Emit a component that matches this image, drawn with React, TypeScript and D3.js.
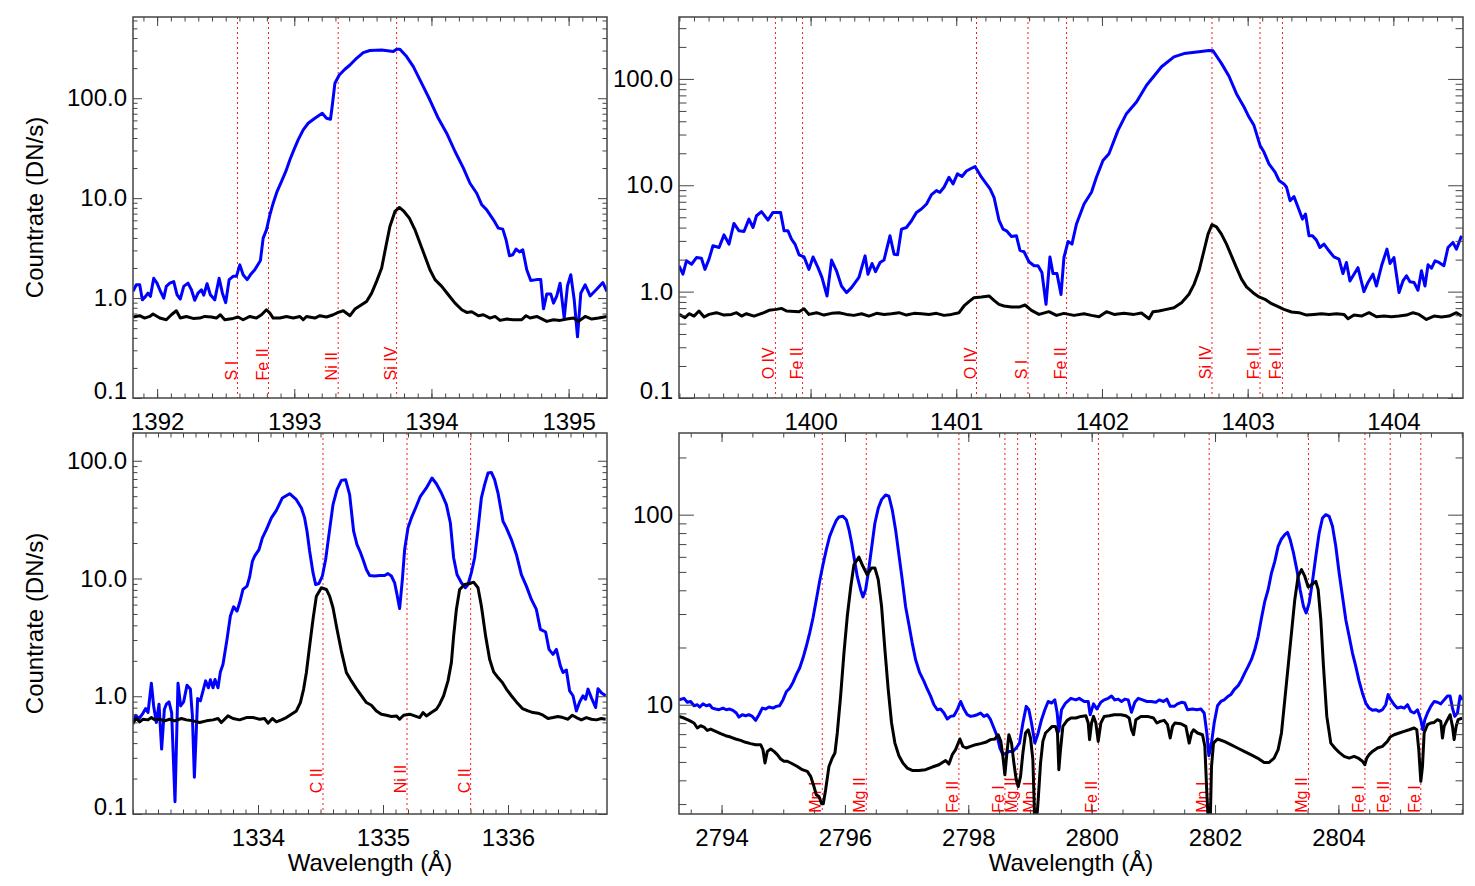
import React, { useEffect, useRef } from "react";
import * as d3 from "d3";

const width = 1475;
const height = 886;
const font = "'Liberation Sans', Arial, Helvetica, sans-serif";

// ---- Si IV 1394 window (top left) ----
const si1394Range = [1391.824, 1395.28];
const si1394Counts = [0.1, 650];
const si1394Ticks = [1392, 1393, 1394, 1395];
const si1394Lines = [1392.586, 1392.812, 1393.32, 1393.746];
const si1394Ids = ["S I", "Fe II", "Ni II", "Si IV"];
const si1394Blue: [number, number][] = [
  [1391.824,1.17],[1391.848,1.36],[1391.873,1.36],[1391.892,0.96],[1391.916,1.04],[1391.933,1.12],[1391.951,1.04],[1391.975,1.58],[1391.999,1.41],[1392.024,1.17],
  [1392.048,1.0],[1392.067,1.31],[1392.092,1.41],[1392.121,1.46],[1392.145,1.08],[1392.169,0.98],[1392.194,1.31],[1392.225,1.41],[1392.25,1.21],[1392.274,0.95],
  [1392.298,1.12],[1392.323,1.21],[1392.34,1.07],[1392.364,1.39],[1392.388,1.08],[1392.42,0.96],[1392.452,1.58],[1392.476,1.12],[1392.5,0.9],[1392.525,1.53],
  [1392.554,1.65],[1392.578,1.65],[1392.603,2.15],[1392.627,1.71],[1392.656,1.53],[1392.68,1.71],[1392.712,1.92],[1392.753,2.38],[1392.773,3.98],[1392.797,4.82],
  [1392.822,6.81],[1392.846,8.9],[1392.875,11.7],[1392.907,14.7],[1392.938,18.5],[1392.968,24.2],[1392.997,30.4],[1393.028,38.3],[1393.065,48.2],[1393.101,56.2],
  [1393.15,63],[1393.204,70.8],[1393.235,63],[1393.264,61.7],[1393.279,89],[1393.296,141],[1393.328,171],[1393.369,195],[1393.406,215],[1393.454,251],
  [1393.503,286],[1393.551,300],[1393.637,304],[1393.722,293],[1393.746,309],[1393.77,309],[1393.819,261],[1393.868,207],[1393.929,141],[1393.989,96],
  [1394.05,63],[1394.111,44.7],[1394.172,29.3],[1394.233,20],[1394.281,14.1],[1394.33,11.2],[1394.367,8.58],[1394.403,7.64],[1394.452,6.07],[1394.488,5.01],
  [1394.52,4.9],[1394.544,3.83],[1394.569,2.65],[1394.593,2.71],[1394.617,3.09],[1394.642,2.9],[1394.666,3.04],[1394.695,1.92],[1394.724,1.5],[1394.768,1.53],
  [1394.797,1.53],[1394.817,0.78],[1394.841,1.1],[1394.87,1.1],[1394.89,0.89],[1394.914,1.05],[1394.938,1.41],[1394.968,0.63],[1394.992,1.33],[1395.016,1.71],
  [1395.041,0.96],[1395.065,0.41],[1395.089,1.12],[1395.121,1.36],[1395.157,1.05],[1395.201,1.21],[1395.25,1.43],[1395.279,1.17]
];
const si1394Black: [number, number][] = [
  [1391.824,0.646],[1391.873,0.666],[1391.909,0.631],[1391.946,0.655],[1391.97,0.692],[1392.019,0.631],[1392.067,0.607],[1392.104,0.681],[1392.14,0.747],[1392.169,0.631],
  [1392.213,0.655],[1392.262,0.626],[1392.311,0.631],[1392.347,0.655],[1392.396,0.646],[1392.432,0.631],[1392.461,0.681],[1392.493,0.607],[1392.554,0.626],[1392.59,0.646],
  [1392.627,0.607],[1392.676,0.655],[1392.724,0.631],[1392.761,0.681],[1392.797,0.764],[1392.822,0.708],[1392.846,0.631],[1392.895,0.631],[1392.943,0.655],[1392.992,0.631],
  [1393.041,0.655],[1393.065,0.607],[1393.089,0.655],[1393.15,0.631],[1393.187,0.666],[1393.235,0.646],[1393.284,0.681],[1393.32,0.719],[1393.357,0.747],[1393.406,0.666],
  [1393.442,0.776],[1393.479,0.838],[1393.527,0.926],[1393.564,1.12],[1393.6,1.47],[1393.637,2.0],[1393.668,3.29],[1393.697,5.21],[1393.734,7.36],[1393.766,8.07],
  [1393.8,7.36],[1393.839,6.31],[1393.88,4.82],[1393.916,3.55],[1393.953,2.61],[1393.989,1.92],[1394.026,1.53],[1394.075,1.31],[1394.123,1.08],[1394.172,0.891],
  [1394.221,0.764],[1394.257,0.719],[1394.294,0.73],[1394.342,0.666],[1394.379,0.681],[1394.427,0.631],[1394.464,0.655],[1394.5,0.598],[1394.549,0.617],[1394.598,0.607],
  [1394.658,0.607],[1394.69,0.666],[1394.719,0.631],[1394.768,0.655],[1394.841,0.584],[1394.89,0.607],[1394.938,0.598],[1394.987,0.617],[1395.036,0.631],[1395.072,0.584],
  [1395.121,0.655],[1395.169,0.617],[1395.218,0.631],[1395.279,0.655]
];

// ---- Si IV 1403 window (top right) ----
const si1403Range = [1399.097, 1404.478];
const si1403Counts = [0.1, 382];
const si1403Ticks = [1400, 1401, 1402, 1403, 1404];
const si1403Lines = [1399.759, 1399.945, 1401.139, 1401.492, 1401.757, 1402.755, 1403.085, 1403.239];
const si1403Ids = ["O IV", "Fe II", "O IV", "S I", "Fe II", "Si IV", "Fe II", "Fe II"];
const si1403Blue: [number, number][] = [
  [1399.097,1.75],[1399.124,1.46],[1399.148,1.95],[1399.183,1.81],[1399.217,2.09],[1399.251,2.06],[1399.275,1.62],[1399.303,2.02],[1399.33,2.7],[1399.372,2.6],
  [1399.406,3.42],[1399.44,2.8],[1399.474,4.38],[1399.509,3.73],[1399.543,3.68],[1399.577,4.81],[1399.605,4.01],[1399.629,5.17],[1399.663,5.65],[1399.708,4.71],
  [1399.742,5.56],[1399.794,5.56],[1399.818,3.73],[1399.845,3.73],[1399.869,3.12],[1399.893,2.8],[1399.921,2.22],[1399.955,2.12],[1399.989,1.62],[1400.017,2.12],
  [1400.051,1.68],[1400.078,1.36],[1400.113,0.91],[1400.144,1.98],[1400.178,1.57],[1400.212,1.13],[1400.247,0.98],[1400.281,1.09],[1400.332,1.36],[1400.374,2.17],
  [1400.394,1.46],[1400.422,1.84],[1400.446,1.54],[1400.477,1.88],[1400.504,1.98],[1400.545,3.35],[1400.573,2.25],[1400.597,2.22],[1400.624,3.87],[1400.658,4.01],
  [1400.693,4.64],[1400.727,5.56],[1400.761,5.98],[1400.796,6.67],[1400.83,8.16],[1400.864,8.91],[1400.888,8.59],[1400.916,9.58],[1400.95,11.9],[1400.978,10.3],
  [1401.008,12.8],[1401.039,12.1],[1401.07,13.6],[1401.098,14.3],[1401.129,15.0],[1401.173,11.9],[1401.232,9.23],[1401.259,7.71],[1401.293,4.71],[1401.321,3.87],
  [1401.345,3.73],[1401.379,3.3],[1401.413,3.35],[1401.437,2.45],[1401.465,2.37],[1401.499,1.91],[1401.534,1.75],[1401.561,1.75],[1401.588,1.51],[1401.616,0.76],
  [1401.643,2.12],[1401.664,1.48],[1401.691,1.48],[1401.719,0.94],[1401.739,2.09],[1401.767,2.96],[1401.794,2.8],[1401.825,4.32],[1401.877,6.67],[1401.928,8.59],
  [1401.962,11.9],[1402.007,17.1],[1402.048,19.8],[1402.11,32.8],[1402.168,47.1],[1402.237,60.7],[1402.306,87.1],[1402.409,130],[1402.494,161],[1402.563,173],
  [1402.666,180],[1402.735,185],[1402.762,184],[1402.82,140],[1402.872,106],[1402.923,72.7],[1402.975,54.4],[1403.009,43.8],[1403.043,36.6],[1403.085,23.7],
  [1403.112,20.5],[1403.146,15.9],[1403.188,13.3],[1403.215,11.1],[1403.249,10.3],[1403.267,9.58],[1403.291,7.16],[1403.318,7.82],[1403.342,6.43],[1403.376,4.81],
  [1403.397,5.37],[1403.421,3.35],[1403.445,3.35],[1403.472,3.05],[1403.496,2.6],[1403.524,2.8],[1403.558,2.42],[1403.592,2.12],[1403.627,2.02],[1403.654,1.48],
  [1403.678,1.88],[1403.702,1.26],[1403.73,1.46],[1403.757,1.68],[1403.798,1.0],[1403.826,1.22],[1403.86,1.46],[1403.884,1.13],[1403.919,1.75],[1403.956,2.51],
  [1403.977,1.84],[1404.004,2.09],[1404.039,0.98],[1404.066,1.26],[1404.09,1.41],[1404.114,1.24],[1404.142,1.22],[1404.169,1.03],[1404.193,1.57],[1404.217,1.13],
  [1404.238,1.79],[1404.262,1.66],[1404.286,1.95],[1404.313,1.88],[1404.347,1.75],[1404.375,2.6],[1404.409,2.9],[1404.433,2.51],[1404.468,3.35]
];
const si1403Black: [number, number][] = [
  [1399.097,0.611],[1399.138,0.569],[1399.166,0.62],[1399.2,0.589],[1399.234,0.657],[1399.269,0.577],[1399.303,0.611],[1399.354,0.634],[1399.406,0.602],[1399.457,0.611],
  [1399.492,0.634],[1399.526,0.589],[1399.56,0.62],[1399.612,0.589],[1399.646,0.611],[1399.68,0.634],[1399.715,0.667],[1399.766,0.681],[1399.8,0.696],[1399.835,0.657],
  [1399.921,0.648],[1399.955,0.691],[1399.989,0.611],[1400.041,0.634],[1400.092,0.602],[1400.144,0.625],[1400.195,0.634],[1400.247,0.611],[1400.298,0.598],[1400.35,0.62],
  [1400.401,0.589],[1400.453,0.625],[1400.504,0.611],[1400.555,0.62],[1400.607,0.634],[1400.658,0.602],[1400.71,0.625],[1400.761,0.62],[1400.813,0.611],[1400.864,0.625],
  [1400.916,0.598],[1400.967,0.611],[1401.019,0.634],[1401.053,0.733],[1401.087,0.805],[1401.122,0.878],[1401.173,0.891],[1401.225,0.91],[1401.259,0.828],[1401.293,0.76],
  [1401.328,0.733],[1401.379,0.716],[1401.431,0.716],[1401.472,0.749],[1401.516,0.667],[1401.568,0.611],[1401.636,0.648],[1401.688,0.598],[1401.739,0.625],[1401.808,0.598],
  [1401.877,0.62],[1401.928,0.598],[1401.98,0.581],[1402.031,0.648],[1402.083,0.611],[1402.151,0.625],[1402.22,0.611],[1402.271,0.629],[1402.323,0.556],[1402.35,0.648],
  [1402.391,0.657],[1402.443,0.681],[1402.494,0.706],[1402.546,0.787],[1402.597,0.944],[1402.632,1.17],[1402.666,1.57],[1402.7,2.42],[1402.728,3.47],[1402.755,4.26],
  [1402.786,4.07],[1402.82,3.47],[1402.855,2.8],[1402.889,2.17],[1402.923,1.68],[1402.958,1.31],[1402.992,1.11],[1403.037,0.978],[1403.078,0.891],[1403.119,0.847],
  [1403.164,0.77],[1403.198,0.733],[1403.249,0.681],[1403.301,0.643],[1403.352,0.634],[1403.404,0.602],[1403.455,0.611],[1403.507,0.62],[1403.558,0.611],[1403.61,0.62],
  [1403.661,0.611],[1403.689,0.556],[1403.73,0.602],[1403.781,0.589],[1403.833,0.634],[1403.884,0.581],[1403.936,0.589],[1403.987,0.581],[1404.039,0.589],[1404.09,0.602],
  [1404.135,0.634],[1404.176,0.611],[1404.227,0.548],[1404.279,0.589],[1404.33,0.577],[1404.382,0.589],[1404.433,0.634],[1404.468,0.589]
];

// ---- C II window (bottom left) ----
const ciiRange = [1333.0, 1336.792];
const ciiCounts = [0.1, 172];
const ciiTicks = [1334, 1335, 1336];
const ciiLines = [1334.52, 1335.192, 1335.701];
const ciiIds = ["C II", "Ni II", "C II"];
const ciiBlue: [number, number][] = [
  [1333.0,0.579],[1333.021,0.69],[1333.048,0.647],[1333.075,0.704],[1333.101,0.786],[1333.12,0.727],[1333.147,1.29],[1333.165,0.828],[1333.187,0.598],[1333.208,0.856],
  [1333.229,0.356],[1333.251,0.776],[1333.267,0.856],[1333.288,0.895],[1333.309,0.727],[1333.336,0.127],[1333.36,1.29],[1333.381,0.828],[1333.405,0.895],[1333.432,1.24],
  [1333.459,1.15],[1333.475,0.681],[1333.491,0.205],[1333.517,0.955],[1333.539,0.913],[1333.56,1.11],[1333.581,1.35],[1333.603,1.18],[1333.619,1.38],[1333.64,1.18],
  [1333.656,1.39],[1333.68,1.18],[1333.699,1.61],[1333.72,1.87],[1333.752,3.04],[1333.779,4.8],[1333.805,5.75],[1333.832,5.28],[1333.853,6.22],[1333.88,8.07],
  [1333.912,8.61],[1333.933,10.3],[1333.955,14.0],[1333.973,15.5],[1334.008,17.6],[1334.035,22.1],[1334.067,26.0],[1334.107,32.7],[1334.147,37.9],[1334.195,48.3],
  [1334.253,52.5],[1334.307,46.7],[1334.347,39.7],[1334.373,32.7],[1334.392,25.2],[1334.413,17.1],[1334.44,11.2],[1334.461,8.89],[1334.488,9.07],[1334.515,10.5],
  [1334.541,14.5],[1334.573,26.0],[1334.6,42.4],[1334.632,56.8],[1334.667,68.1],[1334.701,69.0],[1334.733,51.5],[1334.765,25.2],[1334.792,19.4],[1334.819,16.7],
  [1334.845,14.0],[1334.867,11.9],[1334.893,10.6],[1334.933,10.5],[1334.973,10.6],[1335.013,10.6],[1335.04,11.0],[1335.067,10.5],[1335.093,9.19],[1335.112,7.31],
  [1335.133,5.57],[1335.155,9.82],[1335.173,17.6],[1335.2,26.9],[1335.227,32.7],[1335.261,39.7],[1335.299,49.9],[1335.347,58.7],[1335.392,71.3],[1335.427,63.8],
  [1335.467,53.2],[1335.507,42.4],[1335.539,29.6],[1335.565,15.0],[1335.592,10.8],[1335.627,9.19],[1335.659,8.34],[1335.68,8.89],[1335.707,11.2],[1335.733,15.0],
  [1335.76,26.0],[1335.787,48.3],[1335.813,62.6],[1335.84,78.6],[1335.867,79.6],[1335.893,69.0],[1335.92,53.2],[1335.96,30.6],[1335.987,26.9],[1336.027,21.4],
  [1336.067,16.0],[1336.107,10.8],[1336.147,8.61],[1336.187,6.64],[1336.227,5.46],[1336.259,3.7],[1336.301,3.51],[1336.328,2.5],[1336.36,2.27],[1336.387,2.5],
  [1336.419,1.81],[1336.44,1.59],[1336.467,1.67],[1336.493,1.11],[1336.52,1.01],[1336.547,0.751],[1336.573,0.895],[1336.6,1.01],[1336.621,0.943],[1336.64,1.15],
  [1336.667,0.974],[1336.701,0.802],[1336.72,1.16],[1336.747,1.07],[1336.781,1.01]
];
const ciiBlack: [number, number][] = [
  [1333.0,0.598],[1333.027,0.647],[1333.053,0.606],[1333.08,0.638],[1333.12,0.63],[1333.147,0.659],[1333.173,0.63],[1333.213,0.638],[1333.253,0.618],[1333.293,0.638],
  [1333.333,0.618],[1333.387,0.647],[1333.427,0.63],[1333.48,0.618],[1333.533,0.598],[1333.587,0.618],[1333.64,0.63],[1333.68,0.647],[1333.707,0.598],[1333.76,0.681],
  [1333.8,0.647],[1333.853,0.63],[1333.907,0.659],[1333.96,0.659],[1334.013,0.638],[1334.053,0.647],[1334.08,0.59],[1334.115,0.647],[1334.147,0.606],[1334.187,0.63],
  [1334.227,0.659],[1334.267,0.704],[1334.307,0.751],[1334.339,0.884],[1334.365,1.15],[1334.387,1.59],[1334.413,2.67],[1334.44,4.5],[1334.467,7.08],[1334.507,8.34],
  [1334.547,8.07],[1334.573,7.08],[1334.6,5.64],[1334.632,3.7],[1334.667,2.42],[1334.707,1.59],[1334.747,1.35],[1334.787,1.16],[1334.827,1.01],[1334.867,0.884],
  [1334.907,0.839],[1334.947,0.751],[1334.987,0.704],[1335.027,0.69],[1335.067,0.673],[1335.107,0.681],[1335.133,0.638],[1335.165,0.69],[1335.213,0.704],[1335.253,0.681],
  [1335.293,0.659],[1335.32,0.727],[1335.347,0.681],[1335.387,0.727],[1335.427,0.776],[1335.453,0.856],[1335.485,1.01],[1335.52,1.35],[1335.547,1.93],[1335.565,3.24],
  [1335.587,5.46],[1335.613,8.07],[1335.653,8.89],[1335.693,9.07],[1335.725,9.31],[1335.76,8.34],[1335.787,5.83],[1335.821,3.24],[1335.853,2.06],[1335.885,1.61],
  [1335.92,1.44],[1335.955,1.31],[1335.987,1.15],[1336.027,1.01],[1336.067,0.895],[1336.115,0.786],[1336.16,0.751],[1336.2,0.727],[1336.24,0.718],[1336.28,0.69],
  [1336.32,0.647],[1336.36,0.659],[1336.4,0.673],[1336.44,0.659],[1336.48,0.638],[1336.515,0.69],[1336.547,0.659],[1336.587,0.63],[1336.627,0.659],[1336.667,0.638],
  [1336.707,0.63],[1336.747,0.647],[1336.781,0.638]
];

// ---- Mg II window (bottom right) ----
const mgRange = [2793.31, 2806.02];
const mgCounts = [2.66, 269];
const mgTicks = [2794, 2796, 2798, 2800, 2802, 2804];
const mgLines = [2795.633, 2796.346, 2797.848, 2798.594, 2798.8, 2799.09, 2800.11, 2801.905, 2803.515, 2804.43, 2804.84, 2805.336];
const mgIds = ["Mn I", "Mg II", "Fe II", "Fe I", "Mg II", "Mn I", "Fe II", "Mn I", "Mg II", "Fe I", "Fe II", "Fe I"];
const mgBlue: [number, number][] = [
  [2793.31,10.6],[2793.391,10.8],[2793.445,10.3],[2793.499,10.4],[2793.553,9.88],[2793.607,10.0],[2793.645,9.72],[2793.699,10.1],[2793.753,9.88],[2793.807,10.0],
  [2793.85,9.6],[2793.904,9.49],[2793.958,9.41],[2794.023,9.6],[2794.077,9.41],[2794.131,9.49],[2794.185,9.34],[2794.239,9.04],[2794.282,8.61],[2794.336,8.86],
  [2794.39,8.75],[2794.444,8.86],[2794.498,8.68],[2794.552,8.27],[2794.606,8.86],[2794.661,9.6],[2794.715,9.49],[2794.769,9.72],[2794.833,9.6],[2794.887,9.8],
  [2794.941,9.88],[2794.995,10.6],[2795.05,11.7],[2795.104,12.2],[2795.158,13.1],[2795.212,14.4],[2795.266,15.6],[2795.32,17.6],[2795.374,20.3],[2795.428,23.8],
  [2795.482,28.6],[2795.536,35.7],[2795.59,44.6],[2795.644,54.5],[2795.698,65.5],[2795.752,76.9],[2795.806,85.1],[2795.86,93.3],[2795.903,97.2],[2795.968,98.0],
  [2796.022,94.1],[2796.066,83.4],[2796.109,70.9],[2796.152,58.4],[2796.2,47.3],[2796.254,40.3],[2796.292,36.9],[2796.335,40.3],[2796.378,49.3],[2796.432,66.8],
  [2796.486,90.4],[2796.54,108],[2796.594,120],[2796.659,127],[2796.713,125],[2796.767,106],[2796.821,83.4],[2796.875,61.6],[2796.929,45.5],[2796.983,32.9],
  [2797.037,26.4],[2797.091,21.1],[2797.145,17.3],[2797.21,14.8],[2797.28,13.3],[2797.334,12.1],[2797.389,11.1],[2797.443,10.0],[2797.497,9.41],[2797.551,9.49],
  [2797.605,9.04],[2797.659,8.41],[2797.713,8.68],[2797.767,8.75],[2797.821,9.41],[2797.875,10.4],[2797.929,9.49],[2797.983,8.86],[2798.037,8.68],[2798.091,8.75],
  [2798.145,8.86],[2798.199,9.04],[2798.253,8.68],[2798.307,8.86],[2798.361,8.34],[2798.415,7.54],[2798.469,6.81],[2798.512,5.92],[2798.561,5.46],[2798.615,5.57],
  [2798.669,5.68],[2798.723,5.68],[2798.777,5.92],[2798.831,6.28],[2798.885,8.01],[2798.939,9.8],[2798.982,9.41],[2799.025,8.01],[2799.079,6.28],[2799.133,7.1],
  [2799.187,8.34],[2799.241,9.41],[2799.295,10.4],[2799.349,10.2],[2799.403,10.6],[2799.441,9.04],[2799.468,7.24],[2799.511,9.41],[2799.577,10.2],[2799.663,10.8],
  [2799.744,10.6],[2799.798,10.8],[2799.879,10.4],[2799.944,10.4],[2799.976,8.86],[2800.03,10.1],[2800.084,9.49],[2800.149,10.3],[2800.203,10.6],[2800.268,10.8],
  [2800.322,11.1],[2800.376,10.6],[2800.43,10.7],[2800.484,10.4],[2800.538,10.7],[2800.592,10.6],[2800.646,9.12],[2800.7,10.3],[2800.754,10.8],[2800.825,10.6],
  [2800.895,10.4],[2800.96,10.4],[2801.041,10.3],[2801.095,10.6],[2801.165,10.4],[2801.219,10.7],[2801.273,9.8],[2801.338,9.8],[2801.392,10.1],[2801.457,10.3],
  [2801.511,10.2],[2801.554,9.41],[2801.635,9.49],[2801.705,9.41],[2801.77,9.49],[2801.824,9.04],[2801.867,7.1],[2801.9,5.39],[2801.943,6.28],[2801.986,8.01],
  [2802.04,9.88],[2802.094,10.4],[2802.148,10.6],[2802.202,11.0],[2802.256,11.3],[2802.31,12.0],[2802.375,12.6],[2802.429,13.5],[2802.483,14.7],[2802.537,15.9],
  [2802.591,17.3],[2802.645,19.5],[2802.699,22.9],[2802.753,28.6],[2802.807,35.0],[2802.861,40.3],[2802.915,49.3],[2802.969,56.8],[2803.023,68.1],[2803.077,74.5],
  [2803.131,78.5],[2803.175,80.7],[2803.218,73.9],[2803.272,62.9],[2803.326,51.4],[2803.38,40.3],[2803.434,32.9],[2803.477,30.4],[2803.526,34.3],[2803.58,44.6],
  [2803.634,60.4],[2803.688,80.1],[2803.742,96.0],[2803.796,100],[2803.85,98.0],[2803.904,86.9],[2803.958,68.1],[2804.012,49.3],[2804.066,37.2],[2804.12,28.0],
  [2804.174,22.9],[2804.228,18.7],[2804.282,15.9],[2804.336,13.3],[2804.39,11.5],[2804.444,10.2],[2804.498,9.6],[2804.552,9.34],[2804.606,9.41],[2804.66,9.23],
  [2804.714,9.41],[2804.768,10.0],[2804.806,11.3],[2804.85,10.6],[2804.904,10.0],[2804.958,9.6],[2805.012,9.72],[2805.066,9.6],[2805.12,10.0],[2805.174,9.23],
  [2805.228,9.04],[2805.282,9.41],[2805.336,8.34],[2805.368,7.38],[2805.401,8.34],[2805.444,9.04],[2805.498,9.8],[2805.552,10.4],[2805.606,10.3],[2805.66,10.1],
  [2805.714,10.6],[2805.768,11.1],[2805.811,11.1],[2805.849,9.6],[2805.887,8.68],[2805.93,9.04],[2805.973,11.1],[2806.006,10.6]
];
const mgBlack: [number, number][] = [
  [2793.31,8.68],[2793.391,8.51],[2793.472,8.27],[2793.553,8.01],[2793.607,7.54],[2793.661,7.75],[2793.715,7.63],[2793.769,7.32],[2793.823,7.44],[2793.904,7.24],
  [2793.985,7.04],[2794.066,6.87],[2794.147,6.76],[2794.228,6.6],[2794.309,6.49],[2794.39,6.34],[2794.471,6.24],[2794.552,6.16],[2794.633,6.16],[2794.671,5.8],
  [2794.704,4.93],[2794.742,5.68],[2794.796,5.85],[2794.85,5.68],[2794.904,5.46],[2794.958,5.18],[2795.012,5.04],[2795.066,5.04],[2795.147,4.89],[2795.228,4.73],
  [2795.309,4.55],[2795.39,4.46],[2795.444,4.2],[2795.498,3.71],[2795.536,3.36],[2795.579,3.29],[2795.622,3.01],[2795.649,3.01],[2795.687,3.57],[2795.741,4.73],
  [2795.795,5.24],[2795.838,5.57],[2795.876,7.1],[2795.93,11.1],[2795.984,18.7],[2796.038,29.2],[2796.092,41.1],[2796.146,54.5],[2796.227,59.8],[2796.292,53.5],
  [2796.362,48.3],[2796.432,52.4],[2796.486,52.4],[2796.54,45.5],[2796.594,32.9],[2796.648,19.5],[2796.702,12.0],[2796.756,8.01],[2796.81,6.28],[2796.875,5.39],
  [2796.94,4.93],[2797.01,4.64],[2797.091,4.51],[2797.199,4.51],[2797.307,4.55],[2797.416,4.7],[2797.524,4.83],[2797.632,5.09],[2797.686,4.87],[2797.74,5.46],
  [2797.794,5.8],[2797.864,6.6],[2797.912,6.04],[2797.966,5.92],[2798.037,6.04],[2798.118,6.16],[2798.199,6.24],[2798.28,6.34],[2798.361,6.55],[2798.431,6.6],
  [2798.485,6.95],[2798.528,6.41],[2798.561,5.35],[2798.593,4.28],[2798.626,5.57],[2798.658,6.95],[2798.701,6.28],[2798.739,4.93],[2798.777,4.03],[2798.809,3.71],
  [2798.847,4.2],[2798.885,5.57],[2798.928,7.1],[2798.971,7.38],[2799.009,6.68],[2799.047,5.13],[2799.079,2.3],[2799.101,2.3],[2799.133,3.16],[2799.171,4.93],
  [2799.209,6.41],[2799.252,7.1],[2799.306,7.38],[2799.36,7.69],[2799.414,7.69],[2799.446,7.1],[2799.468,4.55],[2799.49,5.57],[2799.533,7.69],[2799.603,8.27],
  [2799.663,8.51],[2799.744,8.51],[2799.825,8.68],[2799.906,8.75],[2799.944,8.01],[2799.966,6.55],[2799.998,8.01],[2800.03,8.68],[2800.068,8.01],[2800.106,6.41],
  [2800.149,8.01],[2800.203,8.68],[2800.284,8.75],[2800.365,8.86],[2800.473,8.86],[2800.554,8.75],[2800.608,8.51],[2800.646,7.38],[2800.679,6.95],[2800.716,8.34],
  [2800.798,8.68],[2800.906,8.68],[2801.003,8.51],[2801.057,8.01],[2801.111,8.17],[2801.176,8.27],[2801.23,7.85],[2801.273,6.68],[2801.311,7.69],[2801.349,8.01],
  [2801.446,7.94],[2801.527,7.69],[2801.581,6.28],[2801.619,7.1],[2801.651,7.38],[2801.716,7.1],[2801.797,6.95],[2801.835,6.04],[2801.867,3.43],[2801.894,2.3],
  [2801.921,2.3],[2801.943,4.73],[2801.975,6.28],[2802.04,6.6],[2802.148,6.41],[2802.256,6.16],[2802.364,5.92],[2802.472,5.68],[2802.58,5.46],[2802.688,5.24],
  [2802.796,4.97],[2802.877,4.97],[2802.958,5.24],[2803.023,5.8],[2803.077,7.1],[2803.131,10.6],[2803.185,15.9],[2803.239,23.8],[2803.293,35.7],[2803.347,47.3],
  [2803.402,51.4],[2803.456,47.3],[2803.51,41.6],[2803.564,42.8],[2803.634,44.6],[2803.672,40.3],[2803.715,28.0],[2803.758,15.9],[2803.812,8.68],[2803.877,6.28],
  [2803.942,5.92],[2804.012,5.61],[2804.093,5.35],[2804.174,5.24],[2804.255,5.35],[2804.32,5.24],[2804.39,5.04],[2804.428,4.83],[2804.46,5.24],[2804.498,5.46],
  [2804.552,5.68],[2804.633,5.92],[2804.714,6.04],[2804.795,6.41],[2804.839,6.76],[2804.904,6.95],[2804.985,7.1],[2805.066,7.24],[2805.147,7.38],[2805.228,7.54],
  [2805.271,7.38],[2805.303,5.8],[2805.336,3.95],[2805.363,4.73],[2805.39,7.1],[2805.444,7.85],[2805.498,8.01],[2805.552,8.07],[2805.606,8.34],[2805.66,8.17],
  [2805.687,6.68],[2805.714,7.69],[2805.768,8.34],[2805.811,8.86],[2805.849,7.69],[2805.876,6.55],[2805.909,7.69],[2805.941,8.34],[2806.006,8.51]
];

const countTicks = [0.1, 1, 10, 100];
const mgCountTicks = [10, 100];
const idLevel = [0.15, 0.15, 0.15, 2.7];

const panels = [
  { blue: si1394Blue, black: si1394Black, lines: si1394Lines, ids: si1394Ids, xDomain: si1394Range, yDomain: si1394Counts,
    xTicks: si1394Ticks, minorStep: 0.1, yTicks: countTicks, yFmt: ".1f", box: [133, 607, 17, 398], yTitle: true, xTitle: false },
  { blue: si1403Blue, black: si1403Black, lines: si1403Lines, ids: si1403Ids, xDomain: si1403Range, yDomain: si1403Counts,
    xTicks: si1403Ticks, minorStep: 0.1, yTicks: countTicks, yFmt: ".1f", box: [679, 1463, 17, 398], yTitle: false, xTitle: false },
  { blue: ciiBlue, black: ciiBlack, lines: ciiLines, ids: ciiIds, xDomain: ciiRange, yDomain: ciiCounts,
    xTicks: ciiTicks, minorStep: 0.1, yTicks: countTicks, yFmt: ".1f", box: [133, 607, 433, 814], yTitle: true, xTitle: true },
  { blue: mgBlue, black: mgBlack, lines: mgLines, ids: mgIds, xDomain: mgRange, yDomain: mgCounts,
    xTicks: mgTicks, minorStep: 0.5, yTicks: mgCountTicks, yFmt: "d", box: [679, 1463, 433, 814], yTitle: false, xTitle: true }
];

function drawPanel(svg: any, p: any, i: number) {
  const [left, right, top, bottom] = p.box;
  const x = d3.scaleLinear().domain(p.xDomain).range([left, right]);
  const y = d3.scaleLog().domain(p.yDomain).range([bottom, top]);
  const g = svg.append("g");
  const clipId = "clip" + i;
  g.append("clipPath").attr("id", clipId).append("rect")
    .attr("x", left).attr("y", top).attr("width", right - left).attr("height", bottom - top);

  // line ids
  p.lines.forEach((w: number, k: number) => {
    g.append("line")
      .attr("x1", x(w)).attr("x2", x(w)).attr("y1", top).attr("y2", bottom)
      .attr("stroke", "#ff1a1a").attr("stroke-width", 1).attr("stroke-dasharray", "2,3");
    g.append("text")
      .attr("transform", `translate(${x(w) - 1},${y(idLevel[i])}) rotate(-90)`)
      .attr("fill", "#ff0000").attr("font-size", 16).attr("font-family", font)
      .text(p.ids[k]);
  });

  const line = d3.line<[number, number]>().x(d => x(d[0])).y(d => y(d[1]));
  g.append("path").attr("clip-path", `url(#${clipId})`).attr("d", line(p.blue))
    .attr("fill", "none").attr("stroke", "#0000ff").attr("stroke-width", 3).attr("stroke-linejoin", "round");
  g.append("path").attr("clip-path", `url(#${clipId})`).attr("d", line(p.black))
    .attr("fill", "none").attr("stroke", "#000").attr("stroke-width", 3).attr("stroke-linejoin", "round");

  // axes, ticks pointing inwards
  const minor = d3.range(Math.ceil(p.xDomain[0] / p.minorStep), Math.floor(p.xDomain[1] / p.minorStep) + 1)
    .map(k => +(k * p.minorStep).toFixed(3));
  const yLen = (right - left) * 0.019;
  const isDecade = (v: number) => Math.abs(Math.log10(v) - Math.round(Math.log10(v))) < 1e-6;
  const yMinor = y.ticks().filter(v => !isDecade(v));
  const none = () => "";
  const style = (a: any) => {
    a.select(".domain").remove();
    a.selectAll("line").attr("stroke", "#444").attr("stroke-width", 1);
    a.selectAll("text").attr("font-family", font).attr("font-size", 24).attr("fill", "#000");
  };

  g.append("g").attr("transform", `translate(0,${bottom})`)
    .call(d3.axisBottom(x).tickValues(p.xTicks).tickSize(-9).tickSizeOuter(0).tickPadding(15).tickFormat(d3.format("d"))).call(style);
  g.append("g").attr("transform", `translate(0,${bottom})`)
    .call(d3.axisBottom(x).tickValues(minor).tickSize(-4.5).tickSizeOuter(0).tickFormat(none)).call(style);
  g.append("g").attr("transform", `translate(0,${top})`)
    .call(d3.axisTop(x).tickValues(p.xTicks).tickSize(-9).tickSizeOuter(0).tickFormat(none)).call(style);
  g.append("g").attr("transform", `translate(0,${top})`)
    .call(d3.axisTop(x).tickValues(minor).tickSize(-4.5).tickSizeOuter(0).tickFormat(none)).call(style);

  const yl = g.append("g").attr("transform", `translate(${left},0)`)
    .call(d3.axisLeft(y).tickValues(p.yTicks).tickSize(-yLen).tickSizeOuter(0).tickPadding(6).tickFormat(d3.format(p.yFmt))).call(style);
  yl.selectAll("text").filter((d: number) => Math.abs(d - p.yDomain[0]) < 1e-9).attr("dy", "0em");
  g.append("g").attr("transform", `translate(${left},0)`)
    .call(d3.axisLeft(y).tickValues(yMinor).tickSize(-yLen / 2).tickSizeOuter(0).tickFormat(none)).call(style);
  g.append("g").attr("transform", `translate(${right},0)`)
    .call(d3.axisRight(y).tickValues(p.yTicks).tickSize(-yLen).tickSizeOuter(0).tickFormat(none)).call(style);
  g.append("g").attr("transform", `translate(${right},0)`)
    .call(d3.axisRight(y).tickValues(yMinor).tickSize(-yLen / 2).tickSizeOuter(0).tickFormat(none)).call(style);

  g.append("rect").attr("x", left).attr("y", top).attr("width", right - left).attr("height", bottom - top)
    .attr("fill", "none").attr("stroke", "#444").attr("stroke-width", 1.5);

  if (p.yTitle) {
    g.append("text").attr("transform", `translate(43,${(top + bottom) / 2}) rotate(-90)`)
      .attr("text-anchor", "middle").attr("font-family", font).attr("font-size", 24).text("Countrate (DN/s)");
  }
  if (p.xTitle) {
    g.append("text").attr("x", (left + right) / 2).attr("y", bottom + 57)
      .attr("text-anchor", "middle").attr("font-family", font).attr("font-size", 24).text("Wavelength (Å)");
  }
}

export default function App() {
  const ref = useRef<SVGSVGElement>(null);
  useEffect(() => {
    const svg = d3.select(ref.current);
    svg.selectAll("*").remove();
    panels.forEach((p, i) => drawPanel(svg, p, i));
  }, []);
  return (
    <svg ref={ref} width={width} height={height}
      style={{ position: "absolute", left: 0, top: 0, background: "#fff" }} />
  );
}
